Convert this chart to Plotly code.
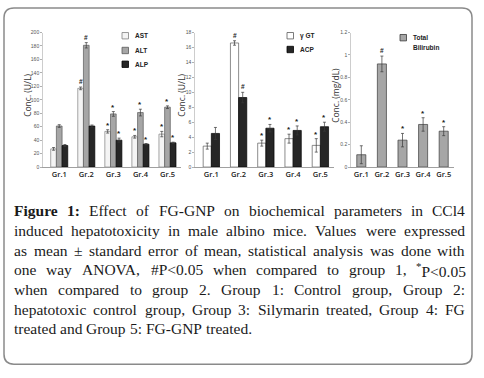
import plotly.graph_objects as go

# ---------------- data ----------------
groups = ["Gr.1", "Gr.2", "Gr.3", "Gr.4", "Gr.5"]

ast = [27, 117, 53, 45, 49]
ast_err = [2, 2, 2.5, 2, 4]
ast_sig = ["", "#", "*", "*", "*"]
alt = [61, 181, 79, 81, 89]
alt_err = [2, 4, 3.5, 5, 2]
alt_sig = ["", "#", "*", "*", "*"]
alp = [32, 61, 40, 34, 36]
alp_err = [1.5, 1.5, 3, 1, 1]
alp_sig = ["", "", "*", "*", "*"]

ggt = [2.8, 16.6, 3.2, 3.8, 2.9]
ggt_err = [0.4, 0.3, 0.4, 0.6, 0.9]
ggt_sig = ["", "#", "*", "*", "*"]
acp = [4.5, 9.3, 5.2, 4.9, 5.4]
acp_err = [0.8, 0.7, 0.5, 0.6, 0.6]
acp_sig = ["", "#", "*", "*", "*"]

tbil = [0.11, 0.92, 0.24, 0.38, 0.32]
tbil_err = [0.08, 0.07, 0.06, 0.06, 0.04]
tbil_sig = ["", "#", "*", "*", "*"]

caption_lines = [
    "**Figure** **1:** Effect of FG-GNP on biochemical parameters in CCl4",
    "induced hepatotoxicity in male albino mice. Values were expressed",
    "as mean ± standard error of mean, statistical analysis was done with",
    "one way ANOVA, #P<0.05 when compared to group 1, ^P<0.05",
    "when compared to group 2. Group 1: Control group, Group 2:",
    "hepatotoxic control group, Group 3: Silymarin treated, Group 4: FG",
    "treated and Group 5: FG-GNP treated.",
]

# ---------------- layout helpers ----------------
W, H = 484, 378
def px(x): return x / W
def py(y): return 1 - y / H

Y_TOP, Y_BOT = 30, 166.7

fig = go.Figure()

panels = [
    dict(ax="", dom=(43, 181), xr=[-0.6, 4.5], yr=[0, 200], dt=20,
         series=[("AST", ast, ast_err, ast_sig, "#f4f4f4", "#808080"),
                 ("ALT", alt, alt_err, alt_sig, "#a6a6a6", "#5a5a5a"),
                 ("ALP", alp, alp_err, alp_sig, "#262626", "#000000")],
         bw=0.21, title="Conc. (U/L)", tx=28),
    dict(ax="2", dom=(195, 334), xr=[-0.6, 4.5], yr=[0, 18], dt=2,
         series=[("γ GT", ggt, ggt_err, ggt_sig, "#ffffff", "#5a5a5a"),
                 ("ACP", acp, acp_err, acp_sig, "#262626", "#000000")],
         bw=0.30, title="Conc. (U/L)", tx=182),
    dict(ax="3", dom=(351, 454), xr=[-0.5, 4.5], yr=[0, 1.2], dt=0.2,
         series=[("Total Bilirubin", tbil, tbil_err, tbil_sig, "#a6a6a6", "#3a3a3a")],
         bw=0.44, title="Conc. (mg/dL)", tx=336),
]

annotations = []
shapes = []
layout_axes = {}

for p in panels:
    a = p["ax"]
    n = len(p["series"])
    for k, (name, vals, errs, sig, fill, line) in enumerate(p["series"]):
        off = -n * p["bw"] / 2 + k * p["bw"]
        fig.add_trace(go.Bar(
            x=groups, y=vals, name=name, xaxis="x" + a, yaxis="y" + a,
            width=p["bw"], offset=off,
            marker=dict(color=fill, line=dict(color=line, width=0.7)),
            error_y=dict(type="data", array=errs, visible=True,
                         color="#3a3a3a", thickness=0.7, width=1.5),
            showlegend=False, hoverinfo="skip",
        ))
        for i, s in enumerate(sig):
            if s:
                annotations.append(dict(
                    x=i + off + p["bw"] / 2, y=vals[i] + errs[i],
                    xref="x" + a, yref="y" + a, text=s, showarrow=False,
                    yanchor="bottom", xanchor="center",
                    yshift=-1 if s == "*" else 1, borderpad=0,
                    font=dict(size=8 if s == "*" else 6.5, color="#1a1a1a",
                              family="Liberation Sans", weight=700)))
    layout_axes["xaxis" + a] = dict(
        domain=[px(p["dom"][0]), px(p["dom"][1])], range=p["xr"],
        anchor="y" + a, showline=True, linecolor="#a0a0a0", linewidth=1,
        ticks="", showgrid=False, zeroline=False, fixedrange=True,
        tickfont=dict(size=7.5, color="#1a1a1a", family="Open Sans", weight=600))
    layout_axes["yaxis" + a] = dict(
        domain=[py(Y_BOT), py(Y_TOP)], range=p["yr"], dtick=p["dt"],
        anchor="x" + a, showline=True, linecolor="#c0c0c0", linewidth=0.8,
        ticks="outside", ticklen=2, tickcolor="#b0b0b0",
        showgrid=False, zeroline=False, fixedrange=True,
        tickfont=dict(size=5, color="#555", family="Liberation Sans"))
    annotations.append(dict(
        x=px(p["tx"]), y=py((Y_TOP + Y_BOT) / 2 - 4), xref="paper", yref="paper",
        xanchor="center", yanchor="middle",
        text=p["title"], textangle=-90, showarrow=False,
        font=dict(size=8.5, color="#333", family="Open Sans")))

# ---------------- legends (drawn swatches) ----------------
legend_items = [
    (panels[0]["series"][0], 122, 30, ["AST"]),
    (panels[0]["series"][1], 122, 45, ["ALT"]),
    (panels[0]["series"][2], 122, 59, ["ALP"]),
    (panels[1]["series"][0], 287, 30, ["γ GT"]),
    (panels[1]["series"][1], 287, 44, ["ACP"]),
    (panels[2]["series"][0], 400, 32, ["Total", "Bilirubin"]),
]
for ser, lx, ly, labels in legend_items:
    fill, line = ser[4], ser[5]
    sz = 6.5
    shapes.append(dict(type="rect", xref="paper", yref="paper",
                       x0=px(lx), x1=px(lx + sz), y0=py(ly + sz), y1=py(ly),
                       fillcolor=fill, line=dict(color=line, width=0.8)))
    for j, lab in enumerate(labels):
        annotations.append(dict(
            x=px(lx + sz + 5), y=py(ly + sz / 2 + j * 10),
            xref="paper", yref="paper", xanchor="left", yanchor="middle",
            text=lab, showarrow=False, borderpad=0,
            font=dict(size=6.5, color="#222", family="Liberation Sans", weight=700)))

# ---------------- caption (justified, word by word) ----------------
REG = {' ': 250, '#': 500, '(': 333, ')': 333, '*': 500, ',': 250, '-': 333,
       '.': 250, ':': 278, '<': 564, '±': 564, '^': 300,
       'A': 722, 'B': 667, 'C': 667, 'D': 722, 'E': 611, 'F': 556, 'G': 722,
       'H': 722, 'I': 333, 'J': 389, 'K': 722, 'L': 611, 'M': 889, 'N': 722,
       'O': 722, 'P': 556, 'Q': 722, 'R': 667, 'S': 556, 'T': 611, 'U': 722,
       'V': 722, 'W': 944, 'X': 722, 'Y': 722, 'Z': 611,
       'a': 444, 'b': 500, 'c': 444, 'd': 500, 'e': 444, 'f': 333, 'g': 500,
       'h': 500, 'i': 278, 'j': 278, 'k': 500, 'l': 278, 'm': 778, 'n': 500,
       'o': 500, 'p': 500, 'q': 500, 'r': 333, 's': 389, 't': 278, 'u': 500,
       'v': 500, 'w': 722, 'x': 500, 'y': 500, 'z': 444}
BOLD = {'F': 611, 'i': 278, 'g': 500, 'u': 556, 'r': 444, 'e': 444, '1': 500, ':': 333}

def word_width(w):
    bold = w.startswith("**")
    s = w.replace("**", "")
    tot = 0
    for ch in s:
        if ch.isdigit():
            tot += 500
        elif bold:
            tot += BOLD.get(ch, 500)
        else:
            tot += REG.get(ch, 500)
    return tot / 1000.0

def word_markup(w):
    if w.startswith("**"):
        return "<b>" + w.replace("**", "") + "</b>"
    s = w.replace("<", "&lt;")
    if s.startswith("^"):
        s = "<sup>*</sup>" + s[1:]
    return s

X0, X1 = 13, 464
LW = X1 - X0
line_words = [[w for w in ln.split(" ") if w] for ln in caption_lines]

nat = [sum(word_width(w) for w in ws) + 0.25 * (len(ws) - 1) for ws in line_words[:-1]]
fsize = min(15.5, LW * 0.985 / max(nat))

for li, ws in enumerate(line_words):
    yc = 211 + li * 20
    widths = [word_width(w) * fsize for w in ws]
    if li < len(line_words) - 1 and len(ws) > 1:
        gap = (LW - sum(widths)) / (len(ws) - 1)
    else:
        gap = 0.25 * fsize
    x = X0
    for w, wd in zip(ws, widths):
        annotations.append(dict(
            x=px(x), y=py(yc), xref="paper", yref="paper",
            xanchor="left", yanchor="middle", text=word_markup(w),
            showarrow=False, borderpad=0,
            font=dict(size=fsize, color="#1a1a1a", family="Liberation Serif")))
        x += wd + gap

# ---------------- frame ----------------
bx0, by0, bx1, by1, r = 4, 5, 472, 367, 10
path = (f"M {px(bx0 + r)},{py(by0)} L {px(bx1 - r)},{py(by0)} "
        f"Q {px(bx1)},{py(by0)} {px(bx1)},{py(by0 + r)} "
        f"L {px(bx1)},{py(by1 - r)} Q {px(bx1)},{py(by1)} {px(bx1 - r)},{py(by1)} "
        f"L {px(bx0 + r)},{py(by1)} Q {px(bx0)},{py(by1)} {px(bx0)},{py(by1 - r)} "
        f"L {px(bx0)},{py(by0 + r)} Q {px(bx0)},{py(by0)} {px(bx0 + r)},{py(by0)} Z")
shapes.append(dict(type="path", path=path, xref="paper", yref="paper",
                   line=dict(color="#8a8a8a", width=1.5)))

fig.update_layout(
    width=W, height=H, margin=dict(l=0, r=0, t=0, b=0),
    paper_bgcolor="white", plot_bgcolor="white",
    barmode="overlay", showlegend=False, hovermode=False,
    annotations=annotations, shapes=shapes,
    **layout_axes,
)

fig.write_html("out.html",
               config={"displayModeBar": False, "staticPlot": True},
               post_script="document.body.style.margin='0';document.body.style.padding='0';")
